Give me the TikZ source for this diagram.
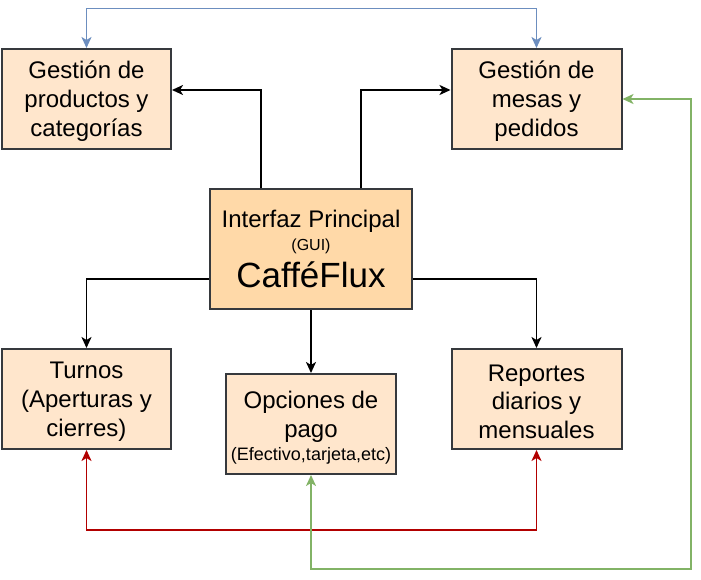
\documentclass[tikz,border=0pt]{standalone}
\usepackage{fontspec}
\setmainfont{Liberation Sans}
\usetikzlibrary{arrows.meta}
\definecolor{boxfill}{HTML}{FFE6CC}
\definecolor{guifill}{HTML}{FFD9A8}
\definecolor{boxline}{HTML}{36393D}
\definecolor{lblue}{HTML}{6C8EBF}
\definecolor{lred}{HTML}{B20000}
\definecolor{lgreen}{HTML}{82B366}
\newcommand{\topadj}[1]{\rule{0pt}{#1}}
\begin{document}
\begin{tikzpicture}[x=1pt,y=-1pt,
  box/.style={draw=boxline, line width=2pt, fill=boxfill, align=center, inner sep=0pt,
    text=black, font=\fontsize{24}{28.8}\selectfont},
  conn/.style={line width=1.9pt, -{Stealth[length=11pt,width=10pt,inset=3pt]}},
  twoway/.style={line width=1.9pt, {Stealth[length=11pt,width=10pt,inset=3pt]}-{Stealth[length=11pt,width=10pt,inset=3pt]}}]
\useasboundingbox (0,0) rectangle (701,579);

\node[box, minimum width=169pt, minimum height=100pt] (prod) at (86.5,99)
  {\topadj{22pt}Gestión de\\productos y\\categorías};
\node[box, minimum width=170pt, minimum height=100pt] (mesas) at (536.5,99)
  {\topadj{22pt}Gestión de\\mesas y\\pedidos};
\node[box, fill=guifill, minimum width=202pt, minimum height=120pt] (gui) at (311,249)
  {Interfaz Principal\\[-5.8pt]{\fontsize{16}{19}\selectfont (GUI)}\\[6pt]{\fontsize{35}{42}\selectfont CafféFlux}};
\node[box, minimum width=169pt, minimum height=100pt] (turnos) at (86.5,399)
  {\topadj{22pt}Turnos\\(Aperturas y\\cierres)};
\node[box, minimum width=170pt, minimum height=100pt] (opc) at (311,424)
  {\topadj{25pt}Opciones de\\pago\\[-5.8pt]{\fontsize{18}{21}\selectfont (Efectivo,tarjeta,etc)}};
\node[box, minimum width=170pt, minimum height=100pt] (rep) at (536.5,399)
  {\topadj{22pt}Reportes\\diarios y\\mensuales};

\coordinate (gcorner) at (691,569);

\draw[twoway, lblue] (prod.north) -- ++(0,-39.5) -| (mesas.north);
\draw[conn] ([xshift=-50pt]gui.north) |- ([yshift=9pt]prod.east);
\draw[conn] ([xshift=50pt]gui.north) |- ([yshift=9pt]mesas.west);
\draw[conn] ([yshift=-30pt]gui.west) -| (turnos.north);
\draw[conn] (gui.south) -- (opc.north);
\draw[conn] ([yshift=-30pt]gui.east) -| (rep.north);
\draw[twoway, lred] (turnos.south) -- ++(0,80) -| (rep.south);
\draw[twoway, lgreen] (opc.south) |- (gcorner) |- (mesas.east);
\end{tikzpicture}
\end{document}
